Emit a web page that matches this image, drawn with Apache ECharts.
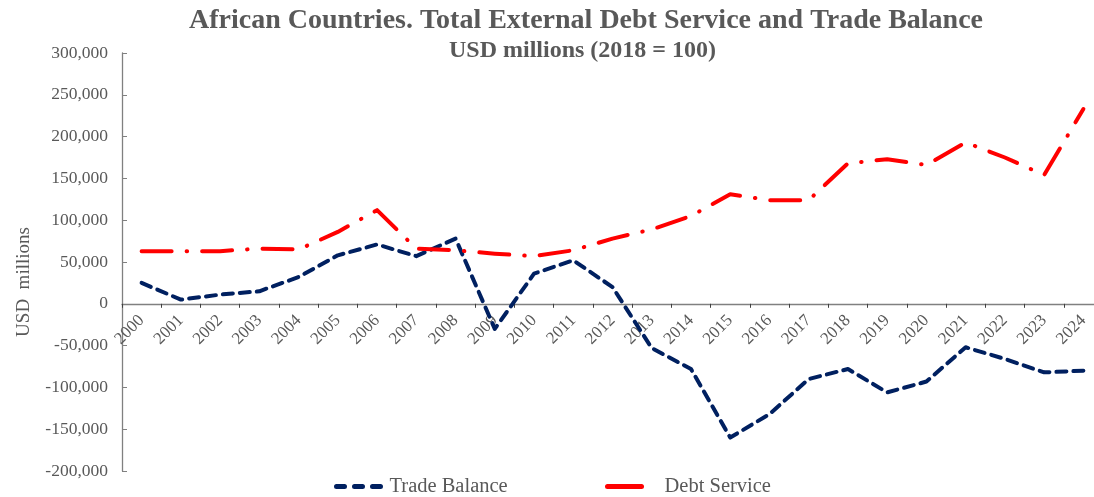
<!DOCTYPE html>
<html>
<head>
<meta charset="utf-8">
<script src="https://cdn.jsdelivr.net/npm/echarts@6/dist/echarts.min.js"></script>
<style>html,body{margin:0;padding:0;background:#fff}#c{width:1094px;height:497px}</style>
</head>
<body>
<div id="c"></div>
<script>
const years = ['2000','2001','2002','2003','2004','2005','2006','2007','2008','2009','2010','2011','2012','2013','2014','2015','2016','2017','2018','2019','2020','2021','2022','2023','2024'];
const tradeBalance = [25000, 5000, 11000, 15000, 32000, 58000, 71000, 57000, 78000, -30000, 36000, 52000, 20000, -53000, -78000, -160000, -132000, -90000, -78000, -106000, -93000, -52000, -66000, -82000, -80000];
const debtService = [63000, 63000, 63000, 66000, 65000, 86000, 112000, 66000, 64000, 60000, 57000, 64000, 78000, 89000, 105000, 131000, 124000, 124000, 168000, 173000, 166000, 193000, 175000, 154000, 233000];
const yTicks = {min: -200000, max: 300000, interval: 50000};

const gray = '#595959';
const font = 'Liberation Serif';
const chart = echarts.init(document.getElementById('c'));
const gridTop = 53, gridBottom = 26, H = 497;
const plotH = H - gridTop - gridBottom;
const zeroOffset = plotH * (0 - yTicks.min) / (yTicks.max - yTicks.min);
chart.setOption({
  animation: false,
  title: [
    {text: 'African Countries. Total External Debt Service and Trade Balance', left: 184, top: 2,
     textStyle: {fontFamily: font, fontWeight: 'bold', fontSize: 28, color: gray}},
    {text: 'USD millions (2018 = 100)', left: 444, top: 34,
     textStyle: {fontFamily: font, fontWeight: 'bold', fontSize: 24, color: gray}}
  ],
  grid: {left: 122, right: -9, top: gridTop, bottom: gridBottom, outerBoundsMode: 'none', containLabel: false},
  legend: [
    {data: [{name: 'Trade Balance', lineStyle: {width: 5, type: [8, 10], cap: 'round'}}], left: 334, top: 476, padding: 0, itemWidth: 48, itemHeight: 12,
     itemStyle: {opacity: 0},
     textStyle: {fontFamily: font, fontSize: 20.5, color: gray}},
    {data: [{name: 'Debt Service', lineStyle: {type: 'solid', width: 5, cap: 'round'}}], left: 605, top: 476, padding: 0, itemWidth: 34, itemHeight: 12,
     itemStyle: {opacity: 0},
     textStyle: {fontFamily: font, fontSize: 20.5, color: gray, padding: [0, 0, 0, 18]}}
  ],
  xAxis: {
    type: 'category', data: years, boundaryGap: true, position: 'bottom', offset: -zeroOffset,
    axisLine: {onZero: false, lineStyle: {color: '#808080', width: 1.3}},
    axisTick: {show: true, inside: false, length: 4, alignWithLabel: false, lineStyle: {color: '#404040'}},
    axisLabel: {rotate: 45, margin: 14, interval: 0, fontFamily: font, fontSize: 17, color: gray}
  },
  yAxis: {
    type: 'value', min: yTicks.min, max: yTicks.max, interval: yTicks.interval,
    name: 'USD  millions', nameLocation: 'middle', nameGap: 88, nameRotate: 90,
    nameTextStyle: {fontFamily: font, fontSize: 19, color: gray, padding: [0, 0, 0, -40]},
    axisLine: {show: true, lineStyle: {color: '#808080', width: 1.3}},
    axisTick: {show: true, inside: true, length: 5, lineStyle: {color: '#808080'}},
    splitLine: {show: false},
    axisLabel: {fontFamily: font, fontSize: 17.5, color: gray, margin: 14,
      formatter: v => v.toLocaleString('en-US')}
  },
  series: [
    {name: 'Trade Balance', type: 'line', data: tradeBalance, smooth: false, showSymbol: false, symbol: 'none',
     color: '#002060',
     lineStyle: {color: '#002060', width: 4, type: [10, 7], cap: 'round', join: 'round'}},
    {name: 'Debt Service', type: 'line', data: debtService, smooth: false, showSymbol: false, symbol: 'none',
     color: '#ff0000',
     lineStyle: {color: '#ff0000', width: 4, type: [30, 15, 0.5, 15], cap: 'round', join: 'round'}}
  ]
});
</script>
</body>
</html>
